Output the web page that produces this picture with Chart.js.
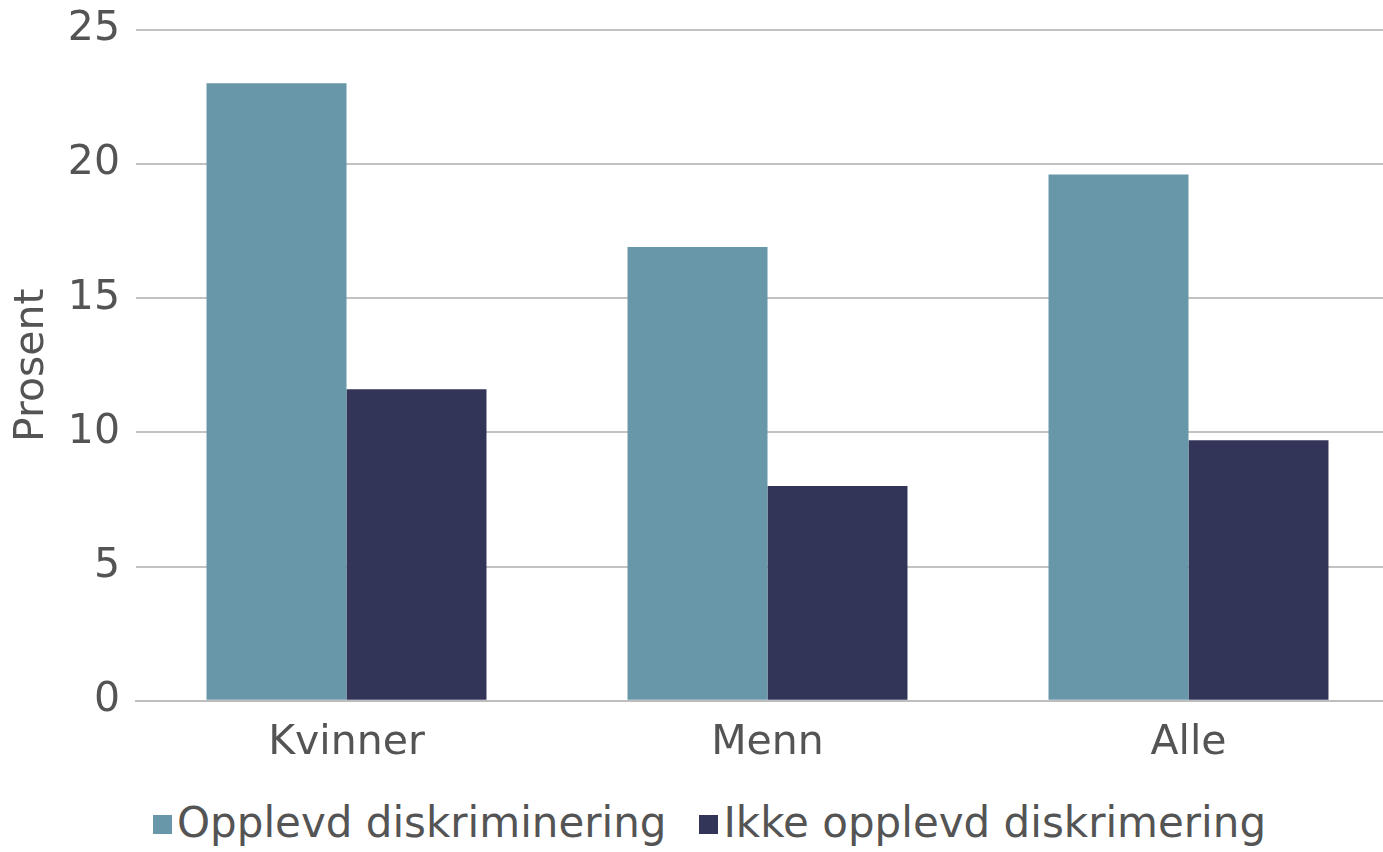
<!DOCTYPE html>
<html>
<head>
<meta charset="utf-8">
<script src="https://cdn.jsdelivr.net/npm/chart.js@4/dist/chart.umd.min.js"></script>
<style>
  body { margin: 0; background: #fff; overflow: hidden; }
  #wrap { position: relative; width: 1399px; height: 852px; }
  #myChart { position: absolute; left: 0; top: -11px; }
  #legend { position: absolute; left: 153px; top: 798px; display: flex; font-family: 'DejaVu Sans'; font-size: 42px; color: #545454; white-space: nowrap; }
  .item { display: flex; align-items: center; margin-right: 33px; }
  .box { width: 19px; height: 19px; margin-right: 5px; margin-top: 4px; }
</style>
</head>
<body>
<div id="wrap">
  <canvas id="myChart" width="1399" height="797" style="width:1399px;height:797px"></canvas>
  <div id="legend"></div>
</div>
<script>
// data
const categories = ['Kvinner', 'Menn', 'Alle'];
const opplevd = [23.0, 16.9, 19.6];
const ikkeOpplevd = [11.6, 8.0, 9.7];
const yTicks = [0, 5, 10, 15, 20, 25];

const grey = '#545454';
const font = { family: "'DejaVu Sans'", size: 41 };

const data = {
  labels: categories,
  datasets: [{
    label: 'Opplevd diskriminering',
    backgroundColor: '#6797a8',
    data: opplevd
  }, {
    label: 'Ikke opplevd diskrimering',
    backgroundColor: '#333558',
    data: ikkeOpplevd
  }]
};

const config = {
  type: 'bar',
  data,
  options: {
    responsive: false,
    animation: false,
    categoryPercentage: 0.665,
    barPercentage: 1,
    layout: { padding: { top: 0, right: 0, bottom: 0, left: 0 } },
    scales: {
      x: {
        grid: { display: false, drawTicks: false },
        border: { color: '#bdbdbd', width: 2 },
        ticks: { color: grey, font, padding: 18 }
      },
      y: {
        min: 0,
        max: 25,
        afterBuildTicks: (scale) => { scale.ticks = yTicks.map(v => ({ value: v })); },
        afterFit: (scale) => { scale.width = 136; },
        grid: { color: '#c2c2c2', lineWidth: 2, drawTicks: false },
        border: { display: false },
        ticks: { color: grey, font, padding: 16 },
        title: { display: true, text: 'Prosent', color: grey, font, padding: { top: 8, bottom: 0 } }
      }
    },
    plugins: {
      legend: { display: false },
      tooltip: { enabled: false }
    }
  }
};

const myChart = new Chart(document.getElementById('myChart'), config);

// legend
const legend = document.getElementById('legend');
myChart.data.datasets.forEach(ds => {
  const item = document.createElement('div');
  item.className = 'item';
  const box = document.createElement('span');
  box.className = 'box';
  box.style.backgroundColor = ds.backgroundColor;
  const txt = document.createElement('span');
  txt.innerText = ds.label;
  item.appendChild(box);
  item.appendChild(txt);
  legend.appendChild(item);
});
</script>
</body>
</html>
